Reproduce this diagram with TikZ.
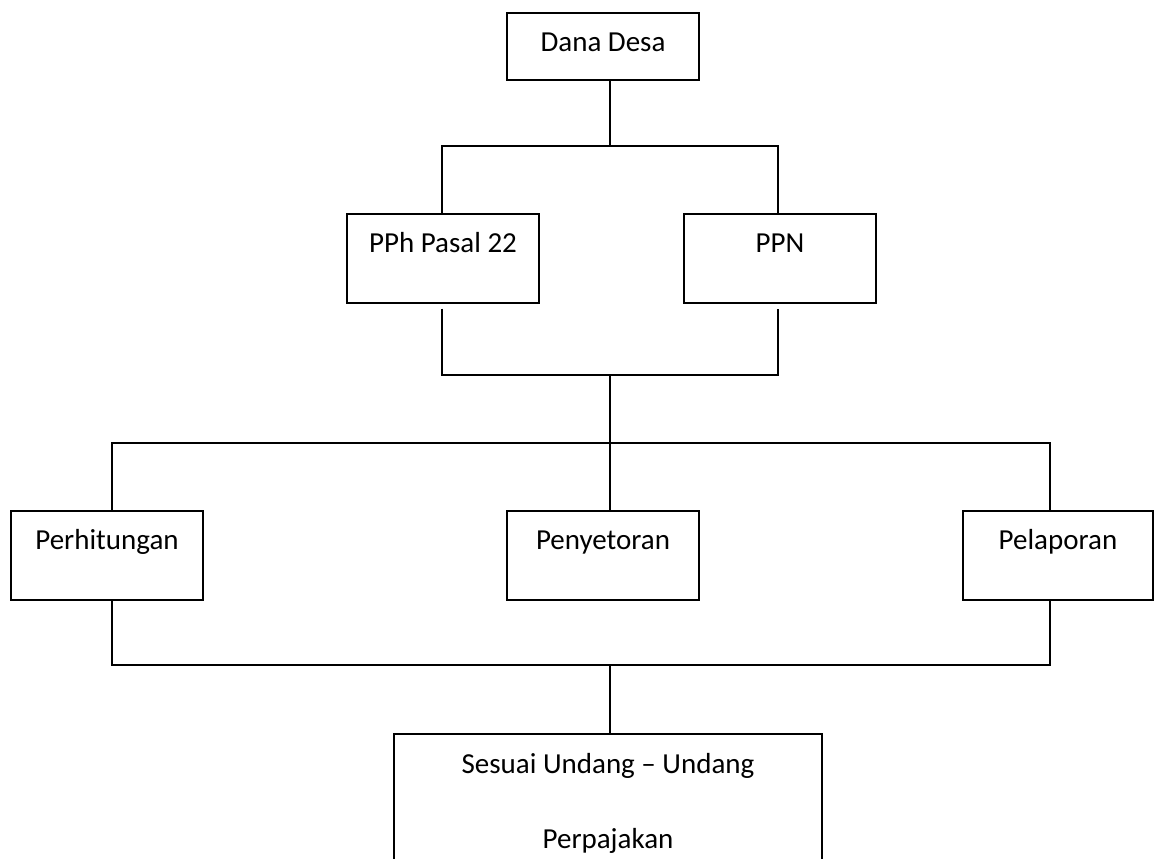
\documentclass[tikz,border=0pt]{standalone}
\usepackage{fontspec}
\setmainfont{Carlito}
\usetikzlibrary{positioning}

\begin{document}
\begin{tikzpicture}[
        x=0.5pt, y=-0.5pt,
        box/.style={rectangle, draw=black, line width=0.8pt, inner sep=0pt, minimum width=96pt, text height=19.5pt, text depth=25pt, align=center, font=\fontsize{14.5}{17.5}\selectfont},
        link/.style={draw=black, line width=0.8pt},
    ]
        \useasboundingbox (0,0) rectangle (1154,858);
        \clip (0,0) rectangle (1154,858);

        % Top
        \node[box, anchor=north, text depth=14pt] (dana) at (603,12) {Dana Desa};

        % Taxes
        \node[box, anchor=north] (pph) at (443,213) {PPh Pasal 22};
        \node[box, anchor=north] (ppn) at (780,213) {PPN};

        % Steps
        \node[box, anchor=north] (hitung) at (107,510) {Perhitungan};
        \node[box, anchor=north] (setor) at (603,510) {Penyetoran};
        \node[box, anchor=north, minimum width=95pt] (lapor) at (1058,510) {Pelaporan};

        % Bottom
        \node[box, anchor=north, minimum width=214pt, text height=57.5pt, text depth=11pt] (uu) at (608,733) {Sesuai Undang -- Undang\\[20pt]Perpajakan};

        % Junctions
        \coordinate (j1) at (610,146);
        \coordinate (j2) at (610,375);
        \coordinate (j3) at (610,443);
        \coordinate (j4) at (610,665);

        % Lines
        \draw[link] (dana.south -| j1) -- (j1);
        \draw[link] ([xshift=-0.5pt]pph.north) |- (j1) -| ([xshift=-1pt]ppn.north);
        \draw[link] ([xshift=-0.5pt,yshift=-2.5pt]pph.south) |- (j2) -| ([xshift=-1pt,yshift=-2.5pt]ppn.south);
        \draw[link] (j2) -- (j2 |- setor.north);
        \draw[link] ([xshift=2.5pt]hitung.north) |- (j3) -| ([xshift=-4pt]lapor.north);
        \draw[link] ([xshift=2.5pt]hitung.south) |- (j4) -| ([xshift=-4pt]lapor.south);
        \draw[link] (j4) -- (j4 |- uu.north);
    \end{tikzpicture}
\end{document}
